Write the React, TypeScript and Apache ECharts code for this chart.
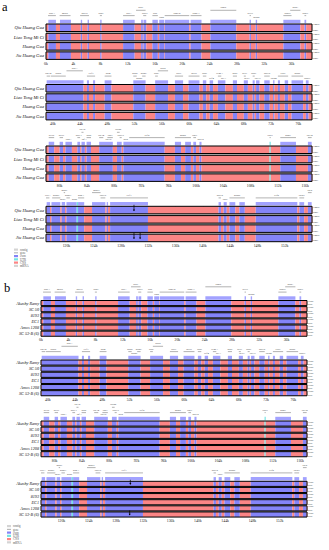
import React, { useEffect, useRef } from "react";
import * as echarts from "echarts";

// ---------- data ----------
const blockRanges = [
  [0, 39],
  [39, 78],
  [78, 117],
  [117, 156],
];
const ticks1 = [0, 4, 8, 12, 16, 20, 24, 28, 32, 36];
const ticks2 = [40, 44, 48, 52, 56, 60, 64, 68, 72, 76];
const ticks3 = [80, 84, 88, 92, 96, 100, 104, 108, 112, 116];
const ticks4 = [120, 124, 128, 132, 136, 140, 144, 148, 152];
const blockTicks = [ticks1, ticks2, ticks3, ticks4];

const namesA = ["Qiu Huang Gua", "Liao Tong Mi Ci", "Huang Gua", "Jiu Huang Gua"];
const namesB = ["Akashy Ramy", "SC 50", "8193", "EC1", "Amos 1208", "SC 53-B (6)"];

// exon (blue) intervals in kb, per block
const exons1 = [[0.34, 1.46], [2.05, 3.66], [5.1, 5.3], [6.1, 6.3], [7.95, 8.15], [11.3, 13.0], [13.95, 14.2], [14.3, 14.7], [15.6, 16.4], [16.6, 17.3], [17.4, 21.0], [21.2, 22.8], [24.1, 27.9], [29.85, 30.05], [30.75, 30.95], [34.8, 37.3], [37.9, 38.15]];
const exons2 = [[39.1, 44.5], [45.0, 45.3], [45.9, 46.2], [47.6, 48.6], [51.8, 53.6], [55.0, 56.9], [57.9, 59.1], [59.9, 61.5], [62.0, 62.5], [63.0, 63.5], [64.2, 65.3], [66.4, 67.0], [68.0, 68.6], [69.3, 69.6], [69.8, 70.3], [71.0, 71.8], [72.3, 72.5], [73.0, 73.3], [74.0, 74.5], [75.0, 76.7], [77.1, 77.5]];
const exons3 = [[78.4, 79.2], [80.0, 80.5], [80.85, 81.8], [82.6, 83.0], [83.2, 83.7], [83.95, 84.6], [85.8, 87.8], [88.4, 89.1], [89.35, 95.4], [96.9, 97.8], [98.4, 99.25], [99.6, 100.0], [100.5, 100.8], [112.35, 114.65], [116.4, 116.95]];
const exons4 = [[117.1, 117.6], [117.8, 119.1], [119.3, 119.8], [120.0, 121.5], [121.7, 122.6], [123.75, 125.7], [125.9, 126.1], [126.4, 131.95], [142.3, 142.65], [143.05, 143.5], [143.9, 144.75], [145.35, 146.15], [147.75, 153.85], [154.15, 154.85], [155.4, 155.95]];
const blockExons = [exons1, exons2, exons3, exons4];

// UTR (cyan) intervals
const utrs1: number[][] = [];
const utrs2: number[][] = [];
const utrs3 = [[110.78, 110.95]];
const utrs4 = [[121.5, 121.7]];
const blockUtrs = [utrs1, utrs2, utrs3, utrs4];

// gene annotations: [name, start, end, level]
const genes1: [string, number, number, number][] = [
  ["psbA", 0.3, 1.45, 0], ["matK", 2.0, 3.6, 0], ["rps16", 5.0, 6.3, 0], ["psbI", 7.9, 8.2, 0],
  ["atpA", 11.3, 13.0, 0], ["atpF", 13.2, 14.6, 1], ["atpH", 14.25, 14.7, 0], ["atpI", 15.6, 16.4, 0],
  ["rps2", 16.6, 17.3, -1], ["rpoC2", 17.4, 21.0, 0], ["rpoC1", 21.2, 22.8, 0], ["rpoB", 24.1, 27.9, 1],
  ["petN", 29.85, 30.05, 0], ["psbM", 30.75, 30.95, -1], ["psbD", 34.8, 36.0, 0], ["psbC", 35.8, 37.3, 1],
  ["psbZ", 37.9, 38.15, 0],
];
const genes2: [string, number, number, number][] = [
  ["rps14", 39.1, 39.6, 0], ["psaB", 39.7, 41.9, 0], ["psaA", 42.0, 44.4, 1], ["ycf3", 45.0, 46.2, 0],
  ["rps4", 47.6, 48.6, 0], ["ndhJ", 51.8, 52.3, 0], ["ndhK", 52.4, 53.0, -1], ["ndhC", 53.1, 53.6, 0],
  ["atpE", 55.0, 55.4, 0], ["atpB", 55.4, 56.9, 1], ["rbcL", 57.9, 59.1, 0], ["accD", 59.9, 61.5, 0],
  ["psaI", 62.0, 62.5, 0], ["ycf4", 63.0, 63.5, -1], ["cemA", 64.2, 64.7, 0], ["petA", 64.8, 65.3, -1],
  ["psbJ", 66.4, 67.0, 0], ["petL", 68.0, 68.3, 0], ["petG", 68.3, 68.6, -1], ["psaJ", 69.3, 69.6, 0],
  ["rpl33", 69.8, 70.3, -1], ["rps18", 71.0, 71.8, 0], ["rpl20", 72.3, 72.5, -1], ["clpP", 73.0, 74.5, 0],
  ["psbB", 75.0, 76.7, 0], ["psbH", 77.1, 77.5, -1],
];
const genes3: [string, number, number, number][] = [
  ["petB", 78.4, 79.2, 0], ["petD", 80.0, 80.5, 0], ["rpoA", 80.85, 81.8, -1], ["rps11", 82.6, 83.0, 0],
  ["rpl36", 83.2, 83.5, 1], ["infA", 83.5, 83.7, -1], ["rps8", 83.95, 84.6, 0], ["rpl14", 85.8, 86.4, 0],
  ["rpl16", 86.5, 87.8, -1], ["rps3", 87.0, 87.8, 0], ["rpl22", 88.4, 88.8, 1], ["rps19", 88.8, 89.1, 0],
  ["rpl2", 89.35, 90.0, -1], ["ycf2", 90.2, 95.4, 0], ["ndhB", 96.9, 99.25, 0], ["rps7", 99.6, 100.0, 0],
  ["rps12", 100.5, 100.8, -1], ["trnN", 110.78, 110.95, 0], ["ndhF", 112.35, 114.65, 0], ["rpl32", 116.4, 116.95, 0],
];
const genes4: [string, number, number, number][] = [
  ["ccsA", 117.0, 117.5, 0], ["ndhD", 117.9, 119.1, 0], ["psaC", 119.3, 119.6, -1], ["ndhE", 119.6, 119.8, 1],
  ["ndhG", 120.0, 120.5, 0], ["ndhI", 120.9, 121.5, -1], ["ndhA", 121.7, 122.6, 0], ["ndhH", 123.75, 125.0, 1],
  ["rps15", 125.0, 125.7, 0], ["ycf1", 126.4, 131.95, 0], ["rps12", 142.3, 142.65, 0], ["rps7", 143.05, 143.5, -1],
  ["ndhB", 143.9, 146.15, 0], ["ycf2", 147.75, 153.85, 0], ["rpl23", 154.15, 154.85, 0], ["rpl2", 155.4, 155.95, 1],
];
const blockGenes = [genes1, genes2, genes3, genes4];

// variation marks in the last block: [kb, track]
const marksA = [[129.9, 0], [129.9, 3], [130.8, 3]];
const marksB = [[130.1, 0], [130.0, 5]];

const legendItems = ["contig", "gene", "exon", "UTR", "CNS", "mRNA"];

// ---------- styles ----------
const C_CNS = "#fb8585";
const C_EXON = "#8484f8";
const C_UTR = "#74e4e4";
const C_EXON_BAR = "#a2a2ff";
const ANNO = 19;
const SERIF = "'Liberation Serif', 'DejaVu Serif', serif";

function buildSegments(range: number[], exons: number[][], utrs: number[][]) {
  const feats = [
    ...exons.map((e) => [e[0], e[1], 1]),
    ...utrs.map((u) => [u[0], u[1], 2]),
  ].sort((a, b) => a[0] - b[0]);
  const out: number[][] = [];
  let cur = range[0];
  for (const f of feats) {
    if (f[0] > cur) out.push([cur, f[0], 0]);
    out.push([Math.max(f[0], range[0]), Math.min(f[1], range[1]), f[2]]);
    cur = Math.max(cur, f[1]);
  }
  if (cur < range[1]) out.push([cur, range[1], 0]);
  return out;
}

const panels = [
  { letter: "a", names: namesA, left: 46, width: 266, tops: [24, 84.5, 146, 206.3], sp: 9.3, h: 7.5, nameSize: 4.6, pct: 2.8, marks: marksA, legendX: 14, legendY: 248.5 },
  { letter: "b", names: namesB, left: 41, width: 266, tops: [300.5, 360, 421, 481.3], sp: 6.13, h: 5.1, nameSize: 4.2, pct: 2.4, marks: marksB, legendX: 7, legendY: 525 },
];

function buildOption() {
  const grid: any[] = [];
  const xAxis: any[] = [];
  const yAxis: any[] = [];
  const series: any[] = [];
  panels.forEach((p, pi) => {
    const n = p.names.length;
    const tracksH = (n - 1) * p.sp + p.h;
    blockRanges.forEach((range, bi) => {
      const gi = pi * 4 + bi;
      grid.push({ left: p.left, top: p.tops[bi] - ANNO, width: p.width, height: ANNO + tracksH, containLabel: false, outerBoundsMode: "none" });
      xAxis.push({
        gridIndex: gi, type: "value", min: range[0], max: range[1],
        axisLine: { show: false }, splitLine: { show: false },
        axisTick: { show: true, customValues: blockTicks[bi], length: 1.5, lineStyle: { color: "#444", width: 0.5 } },
        axisLabel: { customValues: blockTicks[bi], formatter: "{value}k", fontSize: 3.8, margin: 2.2, color: "#222", fontFamily: SERIF },
      });
      yAxis.push({ gridIndex: gi, type: "value", min: -ANNO, max: tracksH, inverse: true, show: false });

      const segs = buildSegments(range, blockExons[bi], blockUtrs[bi]);
      const segData: number[][] = [];
      for (let t = 0; t < n; t++) segs.forEach((s) => segData.push([s[0], s[1], t, s[2]]));

      // gaps + labels
      series.push({
        type: "custom", xAxisIndex: gi, yAxisIndex: gi, silent: true, clip: false, z: 1,
        encode: { x: 0, y: 1 },
        data: p.names.map((_, t) => [range[0], t]),
        renderItem: (params: any, api: any) => {
          const t = api.value(1);
          const top = t * p.sp;
          const pl = api.coord([range[0], top]);
          const pr = api.coord([range[1], top + p.h]);
          const w = pr[0] - pl[0];
          const kids: any[] = [];
          if (t < n - 1) {
            kids.push({ type: "rect", shape: { x: pl[0], y: pr[1], width: w, height: p.sp - p.h }, style: { fill: "#c9c9c9" } });
          }
          kids.push({
            type: "text", x: pl[0] - 2, y: (pl[1] + pr[1]) / 2,
            style: { text: p.names[t], fontSize: p.nameSize, fontStyle: "italic", fontFamily: SERIF, fill: "#111", align: "right", verticalAlign: "middle" },
          });
          kids.push({ type: "text", x: pr[0] + 1, y: pl[1] + 0.9, style: { text: "100%", fontSize: p.pct, fontFamily: SERIF, fill: "#333", align: "left", verticalAlign: "middle" } });
          kids.push({ type: "text", x: pr[0] + 1, y: pr[1] - 0.9, style: { text: "50%", fontSize: p.pct, fontFamily: SERIF, fill: "#333", align: "left", verticalAlign: "middle" } });
          return { type: "group", children: kids };
        },
      });

      // colored segments
      series.push({
        type: "custom", xAxisIndex: gi, yAxisIndex: gi, silent: true, clip: false, z: 2,
        encode: { x: [0, 1], y: 2 },
        data: segData,
        renderItem: (params: any, api: any) => {
          const s = api.value(0), e = api.value(1), t = api.value(2), ty = api.value(3);
          const top = t * p.sp;
          const a = api.coord([s, top]);
          const b = api.coord([e, top + p.h]);
          return {
            type: "rect",
            shape: { x: a[0], y: a[1], width: Math.max(b[0] - a[0], 0.7), height: b[1] - a[1] },
            style: { fill: ty === 1 ? C_EXON : ty === 2 ? C_UTR : C_CNS },
          };
        },
      });

      // frames on top
      series.push({
        type: "custom", xAxisIndex: gi, yAxisIndex: gi, silent: true, clip: false, z: 3,
        encode: { x: 0, y: 1 },
        data: p.names.map((_, t) => [range[0], t]),
        renderItem: (params: any, api: any) => {
          const t = api.value(1);
          const top = t * p.sp;
          const pl = api.coord([range[0], top]);
          const pr = api.coord([range[1], top + p.h]);
          return {
            type: "rect",
            shape: { x: pl[0], y: pl[1], width: pr[0] - pl[0], height: pr[1] - pl[1] },
            style: { fill: "none", stroke: "#000", lineWidth: 1 },
          };
        },
      });

      // exon annotation bars above first track
      const barData = [
        ...blockExons[bi].map((e) => [e[0], e[1], 0, 1]),
        ...blockUtrs[bi].map((u) => [u[0], u[1], 0, 2]),
      ];
      series.push({
        type: "custom", xAxisIndex: gi, yAxisIndex: gi, silent: true, clip: false, z: 2,
        encode: { x: [0, 1], y: 2 },
        data: barData,
        renderItem: (params: any, api: any) => {
          const a = api.coord([api.value(0), -4.2]);
          const b = api.coord([api.value(1), -0.7]);
          return {
            type: "rect",
            shape: { x: a[0], y: a[1], width: Math.max(b[0] - a[0], 0.7), height: b[1] - a[1] },
            style: { fill: api.value(3) === 2 ? C_UTR : C_EXON_BAR },
          };
        },
      });

      // gene annotations
      const genes = blockGenes[bi];
      series.push({
        type: "custom", xAxisIndex: gi, yAxisIndex: gi, silent: true, clip: false, z: 2,
        encode: { x: [0, 1], y: 2 },
        data: genes.map((g) => [g[1], g[2], g[3]]),
        renderItem: (params: any, api: any) => {
          const g = genes[params.dataIndex];
          const lvl = api.value(2);
          const nameY = lvl === 1 ? -16 : lvl === 0 ? -10.6 : -6.3;
          const lineY = lvl === 1 ? -13.7 : lvl === 0 ? -8.4 : -5.0;
          const a = api.coord([api.value(0), lineY]);
          const b = api.coord([api.value(1), lineY]);
          const c = api.coord([(api.value(0) + api.value(1)) / 2, nameY]);
          const kids: any[] = [];
          if (lvl !== -1) {
            kids.push({ type: "line", shape: { x1: a[0], y1: a[1], x2: Math.max(b[0], a[0] + 0.8), y2: b[1] }, style: { stroke: "#666", lineWidth: 0.5 } });
          }
          kids.push({ type: "text", x: c[0], y: c[1], style: { text: g[0], fontSize: 2.8, fontFamily: SERIF, fill: "#444", align: "center", verticalAlign: "middle" } });
          return { type: "group", children: kids };
        },
      });

      // variation marks (last block only)
      if (bi === 3) {
        series.push({
          type: "custom", xAxisIndex: gi, yAxisIndex: gi, silent: true, clip: false, z: 4,
          encode: { x: 0, y: 1 },
          data: p.marks,
          renderItem: (params: any, api: any) => {
            const t = api.value(1);
            const top = t * p.sp;
            const a = api.coord([api.value(0), top - 1.5]);
            const b = api.coord([api.value(0), top + p.h * 0.6]);
            return {
              type: "group",
              children: [
                { type: "line", shape: { x1: a[0], y1: a[1], x2: b[0], y2: b[1] }, style: { stroke: "#000", lineWidth: 0.7 } },
                { type: "polygon", shape: { points: [[b[0] - 1, b[1] - 1.3], [b[0] + 1, b[1] - 1.3], [b[0], b[1] + 0.4]] }, style: { fill: "#000" } },
              ],
            };
          },
        });
      }
    });
  });

  // legends & panel letters
  const legendColors = ["#d4d4d4", "#888", C_EXON, C_UTR, C_CNS, "#d4d4d4"];
  const graphic: any[] = [];
  panels.forEach((p) => {
    graphic.push({
      type: "text", left: p.letter === "a" ? 2 : 4, top: p.letter === "a" ? 0 : 281,
      style: { text: p.letter, fontSize: 12.5, fontFamily: SERIF, fill: "#000" },
    });
    legendItems.forEach((name, i) => {
      const y = p.legendY + i * 3.25;
      if (name === "gene") {
        graphic.push({ type: "line", shape: { x1: p.legendX, y1: y + 1.1, x2: p.legendX + 4, y2: y + 1.1 }, style: { stroke: legendColors[i], lineWidth: 0.7 } });
      } else {
        graphic.push({ type: "rect", shape: { x: p.legendX, y: y, width: 4, height: 2.2 }, style: { fill: legendColors[i] } });
      }
      graphic.push({ type: "text", x: p.legendX + 6, y: y + 1.1, style: { text: name, fontSize: 3, fontFamily: SERIF, fill: "#555", verticalAlign: "middle" } });
    });
  });

  return { animation: false, backgroundColor: "#fff", grid, xAxis, yAxis, series, graphic };
}

export default function App() {
  const ref = useRef<HTMLDivElement>(null);
  useEffect(() => {
    if (!ref.current) return;
    const chart = echarts.init(ref.current, undefined, { renderer: "svg" });
    chart.setOption(buildOption() as any);
    return () => chart.dispose();
  }, []);
  return <div ref={ref} style={{ width: 329, height: 550, position: "absolute", left: 0, top: 0 }} />;
}
